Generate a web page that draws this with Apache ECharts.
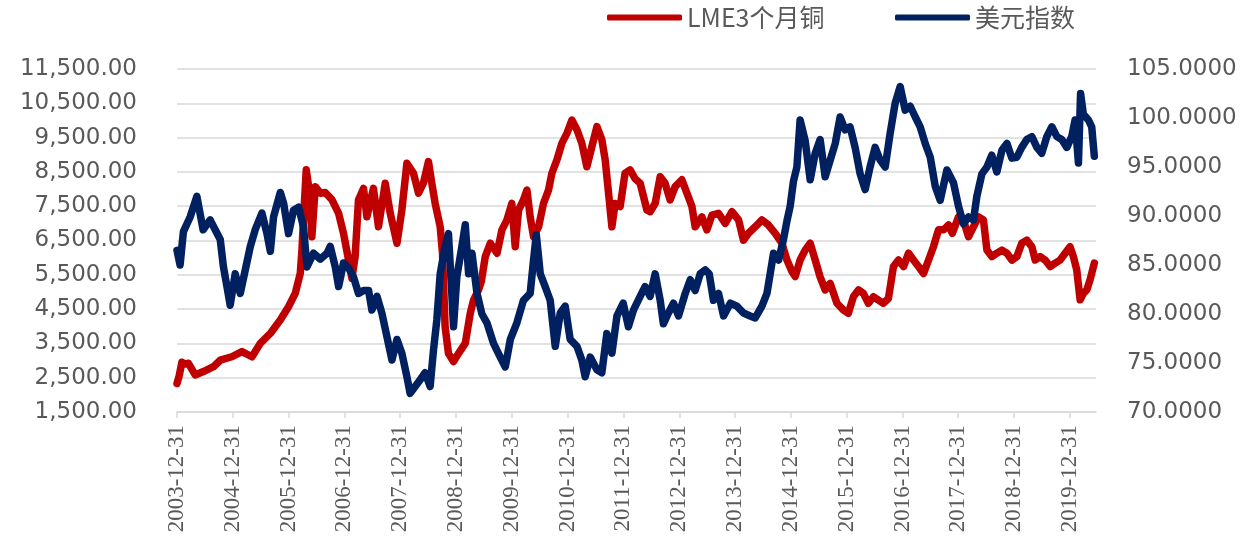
<!DOCTYPE html>
<html>
<head>
<meta charset="utf-8">
<script src="https://cdn.jsdelivr.net/npm/echarts@6/dist/echarts.min.js"></script>
<style>
  html, body { margin: 0; padding: 0; background: #ffffff; }
  #chart { width: 1260px; height: 543px; }
</style>
</head>
<body>
<div id="chart"></div>
<script>
// Year-end tick labels on the date axis
const xTickLabels = [
  '2003-12-31', '2004-12-31', '2005-12-31', '2006-12-31', '2007-12-31', '2008-12-31',
  '2009-12-31', '2010-12-31', '2011-12-31', '2012-12-31', '2013-12-31', '2014-12-31',
  '2015-12-31', '2016-12-31', '2017-12-31', '2018-12-31', '2019-12-31'
];
const axisStartDate = '2003-12-31';
const axisEndDate = '2020-06-20';

// LME 3-month copper (USD/t), left axis
const copperDates = [
  '2003-12-31','2004-01-14','2004-02-01','2004-02-21','2004-03-15','2004-04-28','2004-06-21','2004-08-26','2004-10-09','2004-12-24',
  '2005-02-28','2005-05-05','2005-06-28','2005-09-02','2005-11-06','2005-12-30','2006-02-12','2006-03-17','2006-03-28','2006-04-07',
  '2006-04-25','2006-05-17','2006-06-01','2006-06-23','2006-07-26','2006-08-27','2006-10-10','2006-11-23','2006-12-25','2007-01-27',
  '2007-02-18','2007-03-11','2007-04-02','2007-05-05','2007-05-27','2007-07-09','2007-08-11','2007-09-24','2007-10-27','2007-12-10',
  '2008-01-11','2008-02-13','2008-03-27','2008-04-29','2008-05-31','2008-07-03','2008-07-25','2008-08-16','2008-09-18','2008-10-03',
  '2008-10-20','2008-11-11','2008-12-14','2009-01-16','2009-03-01','2009-04-03','2009-04-24','2009-05-27','2009-06-14','2009-07-10',
  '2009-08-12','2009-09-25','2009-10-27','2009-11-29','2009-12-31','2010-01-22','2010-02-13','2010-03-17','2010-04-09','2010-04-30',
  '2010-05-22','2010-06-24','2010-07-26','2010-08-28','2010-09-19','2010-10-22','2010-11-24','2010-12-27','2011-01-28','2011-03-02',
  '2011-04-03','2011-05-06','2011-06-08','2011-07-11','2011-08-12','2011-09-03','2011-09-25','2011-10-17','2011-11-07','2011-12-10',
  '2012-01-11','2012-02-13','2012-03-17','2012-04-19','2012-06-02','2012-06-23','2012-07-26','2012-08-28','2012-09-29','2012-11-01',
  '2012-12-04','2013-01-17','2013-02-19','2013-03-24','2013-04-14','2013-05-28','2013-06-30','2013-08-02','2013-09-14','2013-10-28',
  '2013-12-11','2014-01-23','2014-02-24','2014-03-29','2014-05-12','2014-06-25','2014-08-07','2014-09-20','2014-11-03','2014-12-06',
  '2015-01-07','2015-01-29','2015-03-02','2015-04-04','2015-05-07','2015-06-09','2015-07-11','2015-08-13','2015-09-15','2015-10-29',
  '2015-12-11','2016-01-12','2016-02-14','2016-03-18','2016-04-19','2016-05-22','2016-06-24','2016-07-27','2016-08-28','2016-09-30',
  '2016-11-02','2016-12-05','2017-01-07','2017-02-09','2017-03-13','2017-04-15','2017-05-18','2017-06-20','2017-07-22','2017-08-24',
  '2017-09-26','2017-10-29','2017-11-22','2018-01-02','2018-02-03','2018-03-08','2018-04-10','2018-05-13','2018-06-14','2018-07-07',
  '2018-08-08','2018-09-10','2018-10-13','2018-11-15','2018-12-17','2019-01-19','2019-02-20','2019-03-25','2019-04-27','2019-05-19',
  '2019-06-20','2019-07-23','2019-08-25','2019-09-27','2019-10-29','2019-12-01','2020-01-02','2020-01-24','2020-02-15','2020-03-08',
  '2020-03-29','2020-04-21','2020-05-12','2020-06-09'
];
const copperValues = [
  2330, 2550, 2950, 2900, 2920, 2580, 2680, 2820, 3010, 3110,
  3260, 3110, 3500, 3790, 4180, 4570, 4960, 5540, 6220, 7100,
  8560, 7880, 6610, 8070, 7880, 7900, 7690, 7290, 6710, 5930,
  5400, 6030, 7680, 8020, 7190, 8020, 6900, 8170, 7290, 6420,
  7390, 8750, 8460, 7880, 8170, 8800, 8170, 7580, 6900, 6130,
  3990, 3210, 2970, 3210, 3500, 4380, 4760, 5060, 5300, 6030,
  6420, 6130, 6810, 7100, 7580, 6320, 7390, 7680, 7970, 7190,
  6610, 6900, 7580, 7970, 8460, 8850, 9340, 9630, 10010, 9730,
  9340, 8650, 9240, 9820, 9440, 8850, 7880, 6900, 7580, 7490,
  8460, 8560, 8300, 8170, 7390, 7340, 7580, 8360, 8170, 7680,
  8070, 8270, 7880, 7490, 6900, 7190, 6810, 7240, 7290, 7000,
  7340, 7100, 6510, 6710, 6900, 7100, 6950, 6710, 6420, 5930,
  5600, 5450, 5930, 6220, 6420, 5930, 5440, 5060, 5250, 4670,
  4470, 4380, 4860, 5060, 4960, 4670, 4860, 4760, 4670, 4810,
  5740, 5930, 5740, 6130, 5930, 5740, 5540, 5930, 6320, 6810,
  6810, 6950, 6710, 7190, 7100, 6610, 6900, 7190, 7100, 6220,
  6030, 6130, 6220, 6130, 5930, 6030, 6420, 6510, 6320, 5930,
  6030, 5930, 5740, 5840, 5930, 6130, 6320, 6030, 5640, 4770,
  4960, 5060, 5350, 5840
];

// US dollar index, right axis
const dxyDates = [
  '2003-12-31','2004-01-20','2004-02-11','2004-03-26','2004-05-09','2004-06-19','2004-08-04','2004-09-06','2004-10-09','2004-10-30',
  '2004-11-22','2004-12-13','2005-01-15','2005-02-17','2005-03-22','2005-04-24','2005-05-26','2005-07-09','2005-08-11','2005-09-02',
  '2005-09-23','2005-11-06','2005-11-28','2005-12-30','2006-02-01','2006-03-06','2006-04-07','2006-04-30','2006-06-12','2006-07-26',
  '2006-09-08','2006-09-29','2006-11-01','2006-11-23','2006-12-25','2007-01-27','2007-02-28','2007-04-02','2007-05-05','2007-06-07',
  '2007-06-29','2007-08-01','2007-09-02','2007-10-05','2007-11-07','2007-12-10','2008-01-11','2008-02-13','2008-03-05','2008-04-07',
  '2008-05-10','2008-06-11','2008-07-14','2008-08-05','2008-08-27','2008-09-18','2008-10-20','2008-11-11','2008-12-03','2008-12-14',
  '2009-01-05','2009-02-07','2009-03-01','2009-03-23','2009-04-14','2009-05-17','2009-06-18','2009-07-21','2009-09-02','2009-10-16',
  '2009-11-18','2009-12-21','2010-02-02','2010-03-17','2010-04-30','2010-05-22','2010-06-09','2010-07-05','2010-08-06','2010-09-08',
  '2010-10-11','2010-11-13','2010-12-15','2011-01-17','2011-03-02','2011-04-03','2011-04-25','2011-05-28','2011-07-11','2011-08-12',
  '2011-09-14','2011-10-17','2011-11-19','2011-12-30','2012-02-02','2012-03-06','2012-04-19','2012-05-21','2012-06-23','2012-07-26',
  '2012-08-28','2012-09-18','2012-10-21','2012-11-23','2012-12-26','2013-02-08','2013-03-13','2013-04-14','2013-05-17','2013-06-19',
  '2013-07-15','2013-08-12','2013-09-14','2013-10-17','2013-11-30','2014-01-12','2014-02-24','2014-04-09','2014-05-12','2014-06-25',
  '2014-07-28','2014-08-18','2014-09-09','2014-10-12','2014-11-13','2014-12-06','2014-12-27','2015-01-17','2015-02-09','2015-03-02',
  '2015-04-04','2015-05-07','2015-06-09','2015-07-11','2015-08-13','2015-09-15','2015-10-18','2015-11-19','2015-12-22','2016-01-23',
  '2016-02-25','2016-03-29','2016-05-01','2016-06-02','2016-07-05','2016-08-07','2016-09-09','2016-10-11','2016-11-13','2016-12-16',
  '2017-01-18','2017-02-20','2017-03-25','2017-04-26','2017-05-29','2017-07-01','2017-08-03','2017-09-04','2017-10-18','2017-11-30',
  '2018-01-02','2018-02-03','2018-03-08','2018-04-10','2018-05-02','2018-06-04','2018-07-07','2018-08-08','2018-09-10','2018-10-13',
  '2018-11-15','2018-12-17','2019-01-19','2019-02-20','2019-03-25','2019-04-27','2019-05-30','2019-07-01','2019-08-03','2019-09-05',
  '2019-10-08','2019-11-09','2019-12-12','2020-01-13','2020-02-04','2020-02-26','2020-03-11','2020-03-29','2020-05-01','2020-05-23',
  '2020-06-09'
];
const dxyValues = [
  86.5, 85.0, 88.4, 89.9, 92.0, 88.6, 89.6, 88.6, 87.6, 84.8,
  82.8, 80.9, 84.1, 82.1, 84.5, 86.9, 88.6, 90.3, 88.2, 86.4,
  89.9, 92.4, 91.3, 88.2, 90.6, 90.9, 88.9, 84.8, 86.2, 85.6,
  86.2, 86.9, 84.8, 82.8, 85.2, 84.7, 83.8, 82.1, 82.4, 82.4,
  80.4, 81.8, 80.1, 77.7, 75.3, 77.4, 76.0, 73.6, 71.9, 72.6,
  73.3, 74.0, 72.6, 76.3, 79.4, 84.1, 86.9, 88.2, 82.1, 78.7,
  83.8, 86.9, 89.1, 84.1, 86.2, 82.1, 80.0, 79.1, 77.0, 75.6,
  74.6, 77.4, 79.1, 81.4, 82.1, 85.5, 88.1, 84.1, 82.8, 81.4,
  76.7, 80.1, 80.8, 77.4, 76.7, 75.3, 73.6, 75.6, 74.3, 74.0,
  78.0, 76.0, 79.8, 81.1, 78.7, 80.4, 81.8, 82.8, 81.8, 84.1,
  81.4, 79.0, 80.1, 81.1, 79.8, 82.1, 83.5, 82.4, 84.1, 84.5,
  84.1, 81.4, 82.1, 79.8, 81.1, 80.8, 80.1, 79.8, 79.6, 80.8,
  82.1, 84.1, 86.2, 85.5, 87.6, 89.5, 91.0, 93.5, 95.0, 99.8,
  97.7, 93.7, 96.4, 97.8, 94.0, 95.7, 97.4, 100.1, 98.8, 99.1,
  97.0, 94.3, 92.7, 95.0, 97.0, 95.7, 95.0, 98.4, 101.5, 103.2,
  100.8, 101.2, 100.1, 99.1, 97.4, 96.0, 93.0, 91.6, 94.7, 93.4,
  91.0, 89.2, 89.9, 89.6, 92.0, 94.3, 95.0, 96.2, 94.5, 96.7,
  97.4, 95.9, 96.0, 97.0, 97.8, 98.1, 97.0, 96.4, 98.1, 99.1,
  98.1, 97.8, 97.0, 98.1, 99.8, 95.4, 102.5, 100.4, 99.8, 99.1,
  96.1
];

const seriesNames = ['LME3个月铜', '美元指数'];
const seriesColors = ['#C00000', '#002060'];

// Dates become day numbers (UTC days since 1970-01-01) on a plain value axis
function toDay(s) {
  const p = s.split('-').map(Number);
  return Date.UTC(p[0], p[1] - 1, p[2]) / 86400000;
}

const tickDays = xTickLabels.map(toDay);
function tickLabelFor(v) {
  let best = 0;
  for (let i = 1; i < tickDays.length; i++) {
    if (Math.abs(tickDays[i] - v) < Math.abs(tickDays[best] - v)) best = i;
  }
  return Math.abs(tickDays[best] - v) < 3 ? xTickLabels[best] : '';
}

const copperData = copperDates.map((d, i) => [toDay(d), copperValues[i]]);
const dxyData = dxyDates.map((d, i) => [toDay(d), dxyValues[i]]);

const textGray = '#595959';
const gridGray = '#D9D9D9';

const legendText = {
  fontSize: 25,
  color: textGray,
  fontFamily: '"Noto Sans CJK SC", sans-serif'
};

function legendFor(name, left) {
  return {
    data: [name],
    left: left,
    top: 5,
    icon: 'roundRect',
    itemWidth: 75,
    itemHeight: 6,
    itemGap: 0,
    padding: 0,
    textStyle: legendText
  };
}

const chart = echarts.init(document.getElementById('chart'), null, { renderer: 'canvas' });

chart.setOption({
  animation: false,
  backgroundColor: '#ffffff',
  grid: { left: 177, right: 164, top: 69, bottom: 131 },
  legend: [legendFor(seriesNames[0], 607), legendFor(seriesNames[1], 895)],
  xAxis: {
    type: 'value',
    min: toDay(axisStartDate),
    max: toDay(axisEndDate),
    scale: true,
    axisLine: { show: true, lineStyle: { color: gridGray, width: 1.5 } },
    axisTick: { show: true, length: 6, customValues: tickDays, lineStyle: { color: gridGray, width: 1.5 } },
    axisLabel: {
      customValues: tickDays,
      rotate: 90,
      margin: 13,
      color: textGray,
      fontSize: 23,
      fontFamily: '"Liberation Serif", serif',
      formatter: (v) => tickLabelFor(v)
    },
    splitLine: { show: false }
  },
  yAxis: [
    {
      type: 'value',
      min: 1500,
      max: 11500,
      interval: 1000,
      axisLine: { show: false },
      axisTick: { show: false },
      axisLabel: {
        margin: 40,
        color: textGray,
        fontSize: 23,
        fontFamily: '"DejaVu Sans", sans-serif',
        formatter: (v) => v.toLocaleString('en-US', { minimumFractionDigits: 2, maximumFractionDigits: 2 })
      },
      splitLine: { show: true, lineStyle: { color: gridGray, width: 1.5 } }
    },
    {
      type: 'value',
      position: 'right',
      min: 70,
      max: 105,
      interval: 5,
      axisLine: { show: false },
      axisTick: { show: false },
      axisLabel: {
        margin: 31,
        color: textGray,
        fontSize: 23,
        fontFamily: '"DejaVu Sans", sans-serif',
        formatter: (v) => v.toFixed(4)
      },
      splitLine: { show: false }
    }
  ],
  series: [
    {
      name: seriesNames[0],
      type: 'line',
      yAxisIndex: 0,
      data: copperData,
      symbol: 'none',
      showSymbol: false,
      itemStyle: { color: seriesColors[0] },
      lineStyle: { color: seriesColors[0], width: 7.5, cap: 'round', join: 'round' },
      z: 2
    },
    {
      name: seriesNames[1],
      type: 'line',
      yAxisIndex: 1,
      data: dxyData,
      symbol: 'none',
      showSymbol: false,
      itemStyle: { color: seriesColors[1] },
      lineStyle: { color: seriesColors[1], width: 7.5, cap: 'round', join: 'round' },
      z: 3
    }
  ]
});
</script>
</body>
</html>
